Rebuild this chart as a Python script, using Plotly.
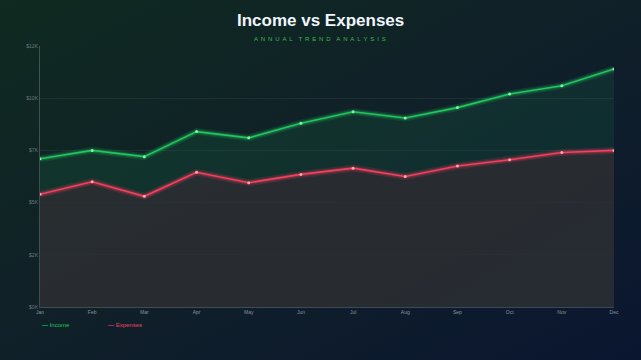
import plotly.graph_objects as go

months = ["Jan", "Feb", "Mar", "Apr", "May", "Jun", "Jul", "Aug", "Sep", "Oct", "Nov", "Dec"]
income = [7100, 7500, 7200, 8400, 8100, 8800, 9350, 9050, 9550, 10200, 10600, 11400]
expenses = [5400, 6000, 5300, 6450, 5950, 6350, 6650, 6250, 6750, 7050, 7400, 7500]
ytick_vals = [0, 2500, 5000, 7500, 10000, 12500]
ytick_text = ["$0K", "$2K", "$5K", "$7K", "$10K", "$12K"]

GREEN = "#22c55e"
RED = "#f43f5e"

W, H = 641, 360
L, R, T, B = 40, 27, 46, 53
pw, ph = W - L - R, H - T - B

svg = (
    "<svg xmlns='http://www.w3.org/2000/svg' width='641' height='360'>"
    "<defs><linearGradient id='g' x1='0' y1='0' x2='1' y2='1'>"
    "<stop offset='0' stop-color='%230f2a20'/>"
    "<stop offset='0.5' stop-color='%23102029'/>"
    "<stop offset='1' stop-color='%230a1630'/>"
    "</linearGradient></defs>"
    "<rect width='641' height='360' fill='url(%23g)'/></svg>"
)
bg_uri = "data:image/svg+xml;utf8," + svg

fig = go.Figure()

xs = list(range(12))

# area fills
fig.add_trace(go.Scatter(x=xs, y=income, mode="lines", line=dict(width=0),
                         fill="tozeroy", fillcolor="rgba(34,197,94,0.10)", hoverinfo="skip", showlegend=False))
fig.add_trace(go.Scatter(x=xs, y=expenses, mode="lines", line=dict(width=0),
                         fill="tozeroy", fillcolor="rgba(46,44,50,0.80)", hoverinfo="skip", showlegend=False))

# glow
for vals, col, w in [(income, "rgba(34,197,94,0.15)", 7), (income, "rgba(34,197,94,0.25)", 4),
                     (expenses, "rgba(244,63,94,0.15)", 7), (expenses, "rgba(244,63,94,0.25)", 4)]:
    fig.add_trace(go.Scatter(x=xs, y=vals, mode="lines",
                             line=dict(color=col, width=w), hoverinfo="skip", showlegend=False))

# main lines
fig.add_trace(go.Scatter(x=xs, y=income, mode="lines+markers", name="Income",
                         line=dict(color=GREEN, width=1.6),
                         marker=dict(size=3, color="#86efac"), showlegend=False))
fig.add_trace(go.Scatter(x=xs, y=expenses, mode="lines+markers", name="Expenses",
                         line=dict(color=RED, width=1.6),
                         marker=dict(size=3, color="#fda4af"), showlegend=False))

sp = "\u00a0\u2009"
sub = (sp * 2).join(sp.join(list(w)) for w in "ANNUAL TREND ANALYSIS".split())

fig.update_layout(
    width=W, height=H,
    margin=dict(l=L, r=R, t=T, b=B),
    paper_bgcolor="rgba(0,0,0,0)",
    plot_bgcolor="rgba(0,0,0,0)",
    font=dict(family="Arial, Liberation Sans, sans-serif", color="#8b949e", size=5),
    xaxis=dict(range=[0, 11], tickmode="array", tickvals=xs, ticktext=months,
               showgrid=False, zeroline=False, showline=True, linecolor="rgba(255,255,255,0.2)",
               linewidth=1, tickfont=dict(size=5, color="#8b949e"), ticks="", ticklen=0,
               fixedrange=True),
    yaxis=dict(range=[0, 12500], tickmode="array", tickvals=ytick_vals, ticktext=ytick_text,
               showgrid=True, gridcolor="rgba(255,255,255,0.06)", gridwidth=1,
               zeroline=False, showline=True, linecolor="rgba(255,255,255,0.2)", linewidth=1,
               tickfont=dict(size=5, color="#6e7681"), ticks="", ticklen=0, fixedrange=True),
    images=[dict(source=bg_uri, xref="paper", yref="paper",
                 x=-L / pw, y=1 + T / ph, sizex=W / pw, sizey=H / ph,
                 xanchor="left", yanchor="top", sizing="stretch", layer="below")],
    annotations=[
        dict(text="<b>Income vs Expenses</b>", xref="paper", yref="paper",
             x=(320 - L) / pw, y=1 + (T - 20) / ph, xanchor="center", yanchor="middle",
             showarrow=False, font=dict(size=17, color="#f0f6fc", family="Arial, Liberation Sans, sans-serif")),
        dict(text=sub, xref="paper", yref="paper",
             x=(320 - L) / pw, y=1 + (T - 39) / ph, xanchor="center", yanchor="middle",
             showarrow=False, font=dict(size=6, color="#3fb950")),
        dict(text="<b>\u2014</b> Income", xref="paper", yref="paper",
             x=0, y=-(325 - 307) / ph, xanchor="left", yanchor="middle",
             showarrow=False, font=dict(size=6, color=GREEN)),
        dict(text="<b>\u2014</b> Expenses", xref="paper", yref="paper",
             x=(106 - L) / pw, y=-(325 - 307) / ph, xanchor="left", yanchor="middle",
             showarrow=False, font=dict(size=6, color=RED)),
    ],
)

fig.write_html("out.html", config={"displayModeBar": False})
